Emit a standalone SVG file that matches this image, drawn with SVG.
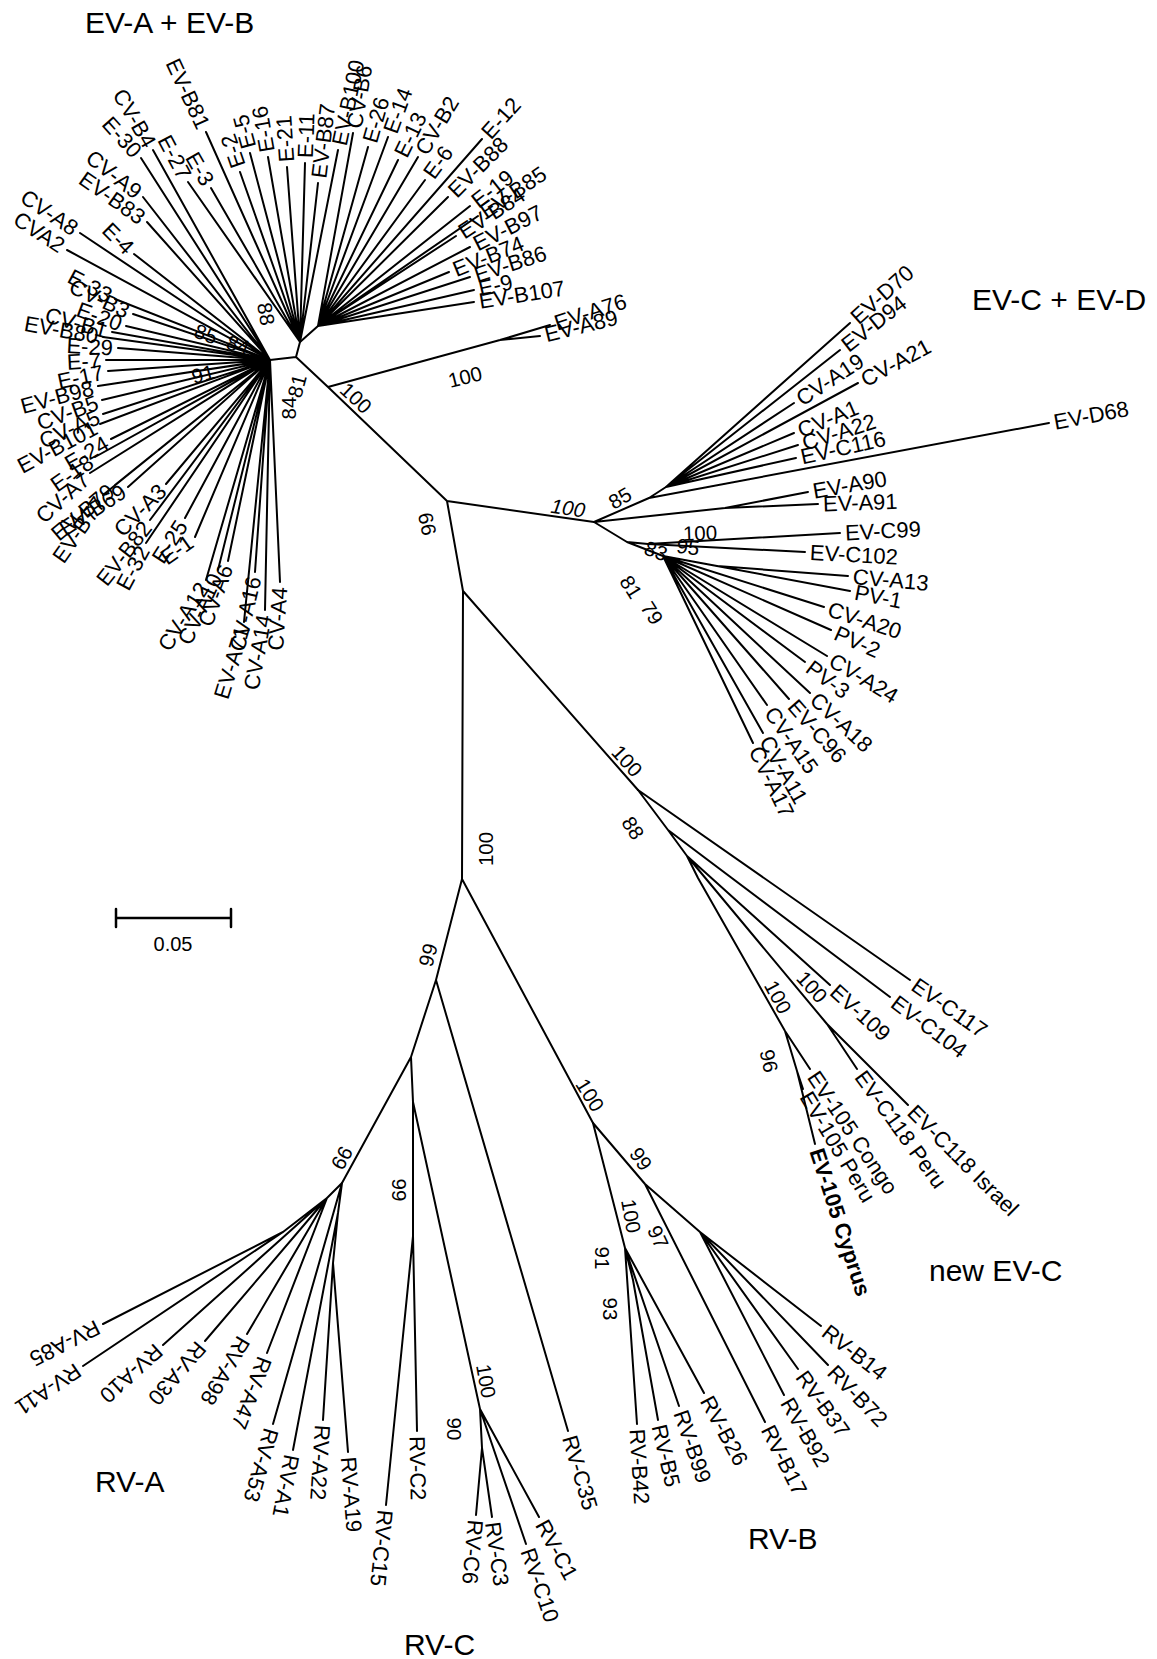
<svg xmlns="http://www.w3.org/2000/svg" width="1157" height="1659" viewBox="0 0 1157 1659">
<style>
.e{fill:none;stroke:#000;stroke-width:2;stroke-linecap:round;stroke-linejoin:round}
text{font-family:"Liberation Sans",Arial,Helvetica,sans-serif;fill:#000}
.s{font-size:22px;text-anchor:start}
.f{font-size:22px;text-anchor:end}
.b{font-size:20.5px;text-anchor:middle}
.ti{font-size:30px}
.bold{font-weight:bold}
</style>
<rect width="1157" height="1659" fill="#fff"/>
<g id="connectors" class="e">
<path d="M296 357L328 387L447 501L594 522M447 501L463 591L462 879M463 591L638 790M328 387L500 340L550 325M500 340L540 336M296 357L270 360M296 357L300 342L318 326"/>
<path d="M270 360L115 299M270 360L133 314M270 360L126 326M270 360L112 332M270 360L103 337M270 360L118 348M270 360L106 360M270 360L108 371M270 360L98 386M270 360L102 400M270 360L103 414M270 360L100 424M270 360L111 439M270 360L95 457M270 360L90 473M270 360L115 485M270 360L128 487M270 360L103 495M270 360L166 484M270 360L150 520M270 360L146 543M270 360L185 518M270 360L195 537M270 360L206 580M270 360L218 570M270 360L228 561M270 360L244 622M270 360L255 572M270 360L265 610M270 360L280 582"/>
<path d="M270 360L153 150M270 360L141 158M270 360L143 197M270 360L147 222M270 360L134 254M270 360L80 233M270 360L67 250"/>
<path d="M300 342L188 182M300 342L211 188M300 342L206 132M300 342L240 172M300 342L250 153M300 342L268 157M300 342L287 167M300 342L305 163M300 342L318 183M300 342L338 150"/>
<path d="M318 326L353 133M318 326L368 147M318 326L388 137M318 326L398 160M318 326L418 157M318 326L425 180M318 326L482 139M318 326L448 197M318 326L470 206M318 326L478 216M318 326L456 236M318 326L470 247M318 326L449 272M318 326L470 277M318 326L474 290M318 326L474 302"/>
<path d="M594 522L649 498L666 487M666 487L850 323M666 487L840 350M666 487L794 403M666 487L858 383M666 487L794 433M666 487L798 445M666 487L796 458M649 498L1049 423M594 522L725 508L808 492M725 508L818 504M594 522L627 542L648 544L840 533M648 544L805 552M627 542L663 556L717 566L848 576M717 566L850 591M663 556L824 607M663 556L831 630M663 556L827 656M663 556L805 662M663 556L810 693M663 556L789 699M663 556L767 705M663 556L763 733M663 556L753 743"/>
<path d="M638 790L910 980M638 790L668 830L890 997M668 830L687 856L830 985M687 856L827 1024L857 1069M827 1024L908 1105M687 856L698 878L785 1031L810 1069M785 1031L797 1071L803 1089M797 1071L815 1144"/>
<path d="M462 879L436 980L411 1057L342 1183M436 980L568 1431M462 879L593 1123M411 1057L413 1102L413 1236L386 1505M413 1236L417 1431M413 1102L480 1409L539 1517M480 1409L526 1544M480 1409L482 1448L476 1515M482 1448L492 1517"/>
<path d="M342 1183L327 1198L283 1232L103 1324M283 1232L83 1366M327 1198L163 1345M327 1198L205 1341M327 1198L247 1334M327 1198L267 1353M342 1183L273 1424M342 1183L338 1213L293 1450M338 1213L333 1263L323 1420M333 1263L348 1452"/>
<path d="M593 1123L645 1184L700 1232L821 1326M700 1232L828 1365M700 1232L798 1369M700 1232L784 1395M645 1184L765 1422M593 1123L625 1248L637 1424M625 1248L633 1280L658 1420M625 1248L679 1406M625 1248L704 1393"/>
</g>
<g id="scale-bar">
<path class="e" style="stroke-width:2.5" d="M116 918H231M116 909V927M231 909V927"/>
<text x="173" y="951" style="font-size:20px;text-anchor:middle">0.05</text>
</g>
<g id="titles">
<text id="t-EVAB" class="ti" x="85" y="33">EV-A + EV-B</text>
<text id="t-EVCD" class="ti" x="972" y="310">EV-C + EV-D</text>
<text id="t-newEVC" class="ti" x="929" y="1281">new EV-C</text>
<text id="t-RVA" class="ti" x="95" y="1492">RV-A</text>
<text id="t-RVB" class="ti" x="748" y="1549">RV-B</text>
<text id="t-RVC" class="ti" x="404" y="1655">RV-C</text>
</g>
<g id="leaves-evab-left">
<g id="n-E-33"><text class="f" transform="translate(115 299) rotate(28)" x="-5" dy=".35em">E-33</text></g>
<g id="n-CV-B3"><text class="f" transform="translate(133 314) rotate(25)" x="-5" dy=".35em">CV-B3</text></g>
<g id="n-E-20"><text class="f" transform="translate(126 326) rotate(20)" x="-5" dy=".35em">E-20</text></g>
<g id="n-CV-B1"><text class="f" transform="translate(112 332) rotate(15)" x="-5" dy=".35em">CV-B1</text></g>
<g id="n-EV-B80"><text class="f" transform="translate(103 337) rotate(10)" x="-5" dy=".35em">EV-B80</text></g>
<g id="n-E-29"><text class="f" transform="translate(118 348) rotate(3)" x="-5" dy=".35em">E-29</text></g>
<g id="n-E-7"><text class="f" transform="translate(106 360) rotate(-3)" x="-5" dy=".35em">E-7</text></g>
<g id="n-E-17"><text class="f" transform="translate(108 371) rotate(-12)" x="-5" dy=".35em">E-17</text></g>
<g id="n-EV-B98"><text class="f" transform="translate(98 386) rotate(-15)" x="-5" dy=".35em">EV-B98</text></g>
<g id="n-CV-B5"><text class="f" transform="translate(102 400) rotate(-20)" x="-5" dy=".35em">CV-B5</text></g>
<g id="n-CV-A5"><text class="f" transform="translate(103 414) rotate(-24)" x="-5" dy=".35em">CV-A5</text></g>
<g id="n-EV-B101"><text class="f" transform="translate(100 424) rotate(-28)" x="-5" dy=".35em">EV-B101</text></g>
<g id="n-E-24"><text class="f" transform="translate(111 439) rotate(-30)" x="-5" dy=".35em">E-24</text></g>
<g id="n-E-18"><text class="f" transform="translate(95 457) rotate(-35)" x="-5" dy=".35em">E-18</text></g>
<g id="n-CV-A7"><text class="f" transform="translate(90 473) rotate(-42)" x="-5" dy=".35em">CV-A7</text></g>
<g id="n-EV-B79"><text class="f" transform="translate(115 485) rotate(-40)" x="-5" dy=".35em">EV-B79</text></g>
<g id="n-EV-B69"><text class="f" transform="translate(128 487) rotate(-33)" x="-5" dy=".35em">EV-B69</text></g>
<g id="n-EV-B77"><text class="f" transform="translate(103 495) rotate(-55)" x="-5" dy=".35em">EV-B77</text></g>
<g id="n-CV-A3"><text class="f" transform="translate(166 484) rotate(-45)" x="-5" dy=".35em">CV-A3</text></g>
<g id="n-EV-B82"><text class="f" transform="translate(150 520) rotate(-52)" x="-5" dy=".35em">EV-B82</text></g>
<g id="n-E-32"><text class="f" transform="translate(146 543) rotate(-62)" x="-5" dy=".35em">E-32</text></g>
<g id="n-E-25"><text class="f" transform="translate(185 518) rotate(-57)" x="-5" dy=".35em">E-25</text></g>
<g id="n-E-1"><text class="f" transform="translate(195 537) rotate(-35)" x="-5" dy=".35em">E-1</text></g>
<g id="n-CV-A12"><text class="f" transform="translate(206 580) rotate(-58)" x="-5" dy=".35em">CV-A12</text></g>
<g id="n-CV-A10"><text class="f" transform="translate(218 570) rotate(-65)" x="-5" dy=".35em">CV-A10</text></g>
<g id="n-CV-A6"><text class="f" transform="translate(228 561) rotate(-70)" x="-5" dy=".35em">CV-A6</text></g>
<g id="n-EV-A71"><text class="f" transform="translate(244 622) rotate(-73)" x="-5" dy=".35em">EV-A71</text></g>
<g id="n-CV-A16"><text class="f" transform="translate(255 572) rotate(-77)" x="-5" dy=".35em">CV-A16</text></g>
<g id="n-CV-A14"><text class="f" transform="translate(265 610) rotate(-80)" x="-5" dy=".35em">CV-A14</text></g>
<g id="n-CV-A4"><text class="f" transform="translate(280 582) rotate(-86)" x="-5" dy=".35em">CV-A4</text></g>
</g>
<g id="leaves-evab-upper">
<g id="n-CV-B4"><text class="f" transform="translate(153 150) rotate(60)" x="-5" dy=".35em">CV-B4</text></g>
<g id="n-E-30"><text class="f" transform="translate(141 158) rotate(48)" x="-5" dy=".35em">E-30</text></g>
<g id="n-CV-A9"><text class="f" transform="translate(143 197) rotate(38)" x="-5" dy=".35em">CV-A9</text></g>
<g id="n-EV-B83"><text class="f" transform="translate(147 222) rotate(35)" x="-5" dy=".35em">EV-B83</text></g>
<g id="n-E-4"><text class="f" transform="translate(134 254) rotate(45)" x="-5" dy=".35em">E-4</text></g>
<g id="n-CV-A8"><text class="f" transform="translate(80 233) rotate(34)" x="-5" dy=".35em">CV-A8</text></g>
<g id="n-CVA2"><text class="f" transform="translate(67 250) rotate(33)" x="-5" dy=".35em">CVA2</text></g>
<g id="n-E-27"><text class="f" transform="translate(188 182) rotate(62)" x="-5" dy=".35em">E-27</text></g>
<g id="n-E-3"><text class="f" transform="translate(211 188) rotate(60)" x="-5" dy=".35em">E-3</text></g>
<g id="n-EV-B81"><text class="f" transform="translate(206 132) rotate(65)" x="-5" dy=".35em">EV-B81</text></g>
<g id="n-E-2"><text class="s" transform="translate(240 172) rotate(-109)" x="5" dy=".35em">E-2</text></g>
<g id="n-E-5"><text class="s" transform="translate(250 153) rotate(-105)" x="5" dy=".35em">E-5</text></g>
<g id="n-E-16"><text class="s" transform="translate(268 157) rotate(-100)" x="5" dy=".35em">E-16</text></g>
<g id="n-E-21"><text class="s" transform="translate(287 167) rotate(-94)" x="5" dy=".35em">E-21</text></g>
<g id="n-E-11"><text class="s" transform="translate(305 163) rotate(-88)" x="5" dy=".35em">E-11</text></g>
<g id="n-EV-B87"><text class="s" transform="translate(318 183) rotate(-83)" x="5" dy=".35em">EV-B87</text></g>
<g id="n-EV-B100"><text class="s" transform="translate(338 150) rotate(-78)" x="5" dy=".35em">EV-B100</text></g>
<g id="n-CV-B6"><text class="s" transform="translate(353 133) rotate(-80)" x="5" dy=".35em">CV-B6</text></g>
<g id="n-E-26"><text class="s" transform="translate(368 147) rotate(-74)" x="5" dy=".35em">E-26</text></g>
<g id="n-E-14"><text class="s" transform="translate(388 137) rotate(-70)" x="5" dy=".35em">E-14</text></g>
<g id="n-E-13"><text class="s" transform="translate(398 160) rotate(-64)" x="5" dy=".35em">E-13</text></g>
<g id="n-CV-B2"><text class="s" transform="translate(418 157) rotate(-59)" x="5" dy=".35em">CV-B2</text></g>
<g id="n-E-6"><text class="s" transform="translate(425 180) rotate(-54)" x="5" dy=".35em">E-6</text></g>
<g id="n-E-12"><text class="s" transform="translate(482 139) rotate(-48)" x="5" dy=".35em">E-12</text></g>
<g id="n-EV-B88"><text class="s" transform="translate(448 197) rotate(-45)" x="5" dy=".35em">EV-B88</text></g>
<g id="n-E-19"><text class="s" transform="translate(470 206) rotate(-38)" x="5" dy=".35em">E-19</text></g>
<g id="n-EV-B85"><text class="s" transform="translate(478 216) rotate(-34)" x="5" dy=".35em">EV-B85</text></g>
<g id="n-EV-B84"><text class="s" transform="translate(456 236) rotate(-33)" x="5" dy=".35em">EV-B84</text></g>
<g id="n-EV-B97"><text class="s" transform="translate(470 247) rotate(-27)" x="5" dy=".35em">EV-B97</text></g>
<g id="n-EV-B74"><text class="s" transform="translate(449 272) rotate(-22)" x="5" dy=".35em">EV-B74</text></g>
<g id="n-EV-B86"><text class="s" transform="translate(470 277) rotate(-18)" x="5" dy=".35em">EV-B86</text></g>
<g id="n-E-9"><text class="s" transform="translate(474 290) rotate(-13)" x="5" dy=".35em">E-9</text></g>
<g id="n-EV-B107"><text class="s" transform="translate(474 302) rotate(-9)" x="5" dy=".35em">EV-B107</text></g>
<g id="n-EV-A76"><text class="s" transform="translate(550 325) rotate(-18)" x="5" dy=".35em">EV-A76</text></g>
<g id="n-EV-A89"><text class="s" transform="translate(540 336) rotate(-14)" x="5" dy=".35em">EV-A89</text></g>
</g>
<g id="leaves-evcd">
<g id="n-EV-D70"><text class="s" transform="translate(850 323) rotate(-41.7)" x="5" dy=".35em">EV-D70</text></g>
<g id="n-EV-D94"><text class="s" transform="translate(840 350) rotate(-38.2)" x="5" dy=".35em">EV-D94</text></g>
<g id="n-CV-A19"><text class="s" transform="translate(794 403) rotate(-33.3)" x="5" dy=".35em">CV-A19</text></g>
<g id="n-CV-A21"><text class="s" transform="translate(858 383) rotate(-28.4)" x="5" dy=".35em">CV-A21</text></g>
<g id="n-CV-A1"><text class="s" transform="translate(794 433) rotate(-22.9)" x="5" dy=".35em">CV-A1</text></g>
<g id="n-CV-A22"><text class="s" transform="translate(798 445) rotate(-17.6)" x="5" dy=".35em">CV-A22</text></g>
<g id="n-EV-C116"><text class="s" transform="translate(796 458) rotate(-12.6)" x="5" dy=".35em">EV-C116</text></g>
<g id="n-EV-D68"><text class="s" transform="translate(1049 423) rotate(-10.6)" x="5" dy=".35em">EV-D68</text></g>
<g id="n-EV-A90"><text class="s" transform="translate(808 492) rotate(-10)" x="5" dy=".35em">EV-A90</text></g>
<g id="n-EV-A91"><text class="s" transform="translate(818 504) rotate(-2)" x="5" dy=".35em">EV-A91</text></g>
<g id="n-EV-C99"><text class="s" transform="translate(840 533) rotate(-3)" x="5" dy=".35em">EV-C99</text></g>
<g id="n-EV-C102"><text class="s" transform="translate(805 552) rotate(3)" x="5" dy=".35em">EV-C102</text></g>
<g id="n-CV-A13"><text class="s" transform="translate(848 576) rotate(5)" x="5" dy=".35em">CV-A13</text></g>
<g id="n-PV-1"><text class="s" transform="translate(850 591) rotate(11)" x="5" dy=".35em">PV-1</text></g>
<g id="n-CV-A20"><text class="s" transform="translate(824 607) rotate(18)" x="5" dy=".35em">CV-A20</text></g>
<g id="n-PV-2"><text class="s" transform="translate(831 630) rotate(24)" x="5" dy=".35em">PV-2</text></g>
<g id="n-CV-A24"><text class="s" transform="translate(827 656) rotate(31)" x="5" dy=".35em">CV-A24</text></g>
<g id="n-PV-3"><text class="s" transform="translate(805 662) rotate(37)" x="5" dy=".35em">PV-3</text></g>
<g id="n-CV-A18"><text class="s" transform="translate(810 693) rotate(43)" x="5" dy=".35em">CV-A18</text></g>
<g id="n-EV-C96"><text class="s" transform="translate(789 699) rotate(48.6)" x="5" dy=".35em">EV-C96</text></g>
<g id="n-CV-A15"><text class="s" transform="translate(767 705) rotate(55)" x="5" dy=".35em">CV-A15</text></g>
<g id="n-CV-A11"><text class="s" transform="translate(763 733) rotate(60.5)" x="5" dy=".35em">CV-A11</text></g>
<g id="n-CV-A17"><text class="s" transform="translate(753 743) rotate(64.3)" x="5" dy=".35em">CV-A17</text></g>
</g>
<g id="leaves-newevc">
<g id="n-EV-C117"><text class="s" transform="translate(910 980) rotate(35)" x="5" dy=".35em">EV-C117</text></g>
<g id="n-EV-C104"><text class="s" transform="translate(890 997) rotate(37)" x="5" dy=".35em">EV-C104</text></g>
<g id="n-EV-109"><text class="s" transform="translate(830 985) rotate(42)" x="5" dy=".35em">EV-109</text></g>
<g id="n-EV-C118-Israel"><text class="s" transform="translate(908 1105) rotate(45)" x="5" dy=".35em">EV-C118 Israel</text></g>
<g id="n-EV-C118-Peru"><text class="s" transform="translate(857 1069) rotate(54)" x="5" dy=".35em">EV-C118 Peru</text></g>
<g id="n-EV-105-Congo"><text class="s" transform="translate(810 1069) rotate(56)" x="5" dy=".35em">EV-105 Congo</text></g>
<g id="n-EV-105-Peru"><text class="s" transform="translate(803 1089) rotate(59)" x="5" dy=".35em">EV-105 Peru</text></g>
<g id="n-EV-105-Cyprus"><text class="s bold" transform="translate(815 1144) rotate(72)" x="5" dy=".35em">EV-105 Cyprus</text></g>
</g>
<g id="leaves-rv">
<g id="n-RV-A85"><text class="s" transform="translate(103 1324) rotate(153)" x="5" dy=".35em">RV-A85</text></g>
<g id="n-RV-A11"><text class="s" transform="translate(83 1366) rotate(146)" x="5" dy=".35em">RV-A11</text></g>
<g id="n-RV-A10"><text class="s" transform="translate(163 1345) rotate(138)" x="5" dy=".35em">RV-A10</text></g>
<g id="n-RV-A30"><text class="s" transform="translate(205 1341) rotate(130.5)" x="5" dy=".35em">RV-A30</text></g>
<g id="n-RV-A98"><text class="s" transform="translate(247 1334) rotate(120.5)" x="5" dy=".35em">RV-A98</text></g>
<g id="n-RV-A47"><text class="s" transform="translate(267 1353) rotate(111)" x="5" dy=".35em">RV-A47</text></g>
<g id="n-RV-A53"><text class="s" transform="translate(273 1424) rotate(106)" x="5" dy=".35em">RV-A53</text></g>
<g id="n-RV-A1"><text class="s" transform="translate(293 1450) rotate(101)" x="5" dy=".35em">RV-A1</text></g>
<g id="n-RV-A22"><text class="s" transform="translate(323 1420) rotate(93.6)" x="5" dy=".35em">RV-A22</text></g>
<g id="n-RV-A19"><text class="s" transform="translate(348 1452) rotate(85.5)" x="5" dy=".35em">RV-A19</text></g>
<g id="n-RV-C15"><text class="s" transform="translate(386 1505) rotate(95.7)" x="5" dy=".35em">RV-C15</text></g>
<g id="n-RV-C2"><text class="s" transform="translate(417 1431) rotate(88.8)" x="5" dy=".35em">RV-C2</text></g>
<g id="n-RV-C6"><text class="s" transform="translate(476 1515) rotate(95)" x="5" dy=".35em">RV-C6</text></g>
<g id="n-RV-C3"><text class="s" transform="translate(492 1517) rotate(82)" x="5" dy=".35em">RV-C3</text></g>
<g id="n-RV-C10"><text class="s" transform="translate(526 1544) rotate(71)" x="5" dy=".35em">RV-C10</text></g>
<g id="n-RV-C1"><text class="s" transform="translate(539 1517) rotate(61.4)" x="5" dy=".35em">RV-C1</text></g>
<g id="n-RV-C35"><text class="s" transform="translate(568 1431) rotate(73.7)" x="5" dy=".35em">RV-C35</text></g>
<g id="n-RV-B42"><text class="s" transform="translate(637 1424) rotate(86.5)" x="5" dy=".35em">RV-B42</text></g>
<g id="n-RV-B5"><text class="s" transform="translate(658 1420) rotate(77)" x="5" dy=".35em">RV-B5</text></g>
<g id="n-RV-B99"><text class="s" transform="translate(679 1406) rotate(71.3)" x="5" dy=".35em">RV-B99</text></g>
<g id="n-RV-B26"><text class="s" transform="translate(704 1393) rotate(61.6)" x="5" dy=".35em">RV-B26</text></g>
<g id="n-RV-B17"><text class="s" transform="translate(765 1422) rotate(63.2)" x="5" dy=".35em">RV-B17</text></g>
<g id="n-RV-B92"><text class="s" transform="translate(784 1395) rotate(60)" x="5" dy=".35em">RV-B92</text></g>
<g id="n-RV-B37"><text class="s" transform="translate(798 1369) rotate(54.4)" x="5" dy=".35em">RV-B37</text></g>
<g id="n-RV-B72"><text class="s" transform="translate(828 1365) rotate(46)" x="5" dy=".35em">RV-B72</text></g>
<g id="n-RV-B14"><text class="s" transform="translate(821 1326) rotate(38)" x="5" dy=".35em">RV-B14</text></g>
</g>
<g id="support-values">
<text class="b" transform="translate(465 377) rotate(-14)" dy=".35em">100</text>
<text class="b" transform="translate(356 398) rotate(43)" dy=".35em">100</text>
<text class="b" transform="translate(206 334) rotate(20)" dy=".35em">85</text>
<text class="b" transform="translate(238 345) rotate(18)" dy=".35em">84</text>
<text class="b" transform="translate(266 314) rotate(80)" dy=".35em">88</text>
<text class="b" transform="translate(203 374) rotate(-15)" dy=".35em">91</text>
<text class="b" transform="translate(289 408) rotate(-90)" dy=".35em">84</text>
<text class="b" transform="translate(297 386) rotate(-75)" dy=".35em">81</text>
<text class="b" transform="translate(427 524) rotate(-102)" dy=".35em">99</text>
<text class="b" style="font-style:italic" transform="translate(568 508) rotate(8)" dy=".35em">100</text>
<text class="b" transform="translate(620 498) rotate(-30)" dy=".35em">85</text>
<text class="b" transform="translate(700 533) rotate(-2)" dy=".35em">100</text>
<text class="b" transform="translate(688 547) rotate(8)" dy=".35em">95</text>
<text class="b" transform="translate(656 551) rotate(20)" dy=".35em">83</text>
<text class="b" transform="translate(631 587) rotate(58)" dy=".35em">81</text>
<text class="b" transform="translate(652 613) rotate(58)" dy=".35em">79</text>
<text class="b" transform="translate(486 849) rotate(-90)" dy=".35em">100</text>
<text class="b" transform="translate(627 761) rotate(48)" dy=".35em">100</text>
<text class="b" transform="translate(633 828) rotate(58)" dy=".35em">88</text>
<text class="b" transform="translate(812 987) rotate(48)" dy=".35em">100</text>
<text class="b" transform="translate(778 997) rotate(62)" dy=".35em">100</text>
<text class="b" transform="translate(769 1061) rotate(78)" dy=".35em">96</text>
<text class="b" transform="translate(428 955) rotate(-75)" dy=".35em">99</text>
<text class="b" transform="translate(590 1095) rotate(58)" dy=".35em">100</text>
<text class="b" transform="translate(641 1159) rotate(55)" dy=".35em">99</text>
<text class="b" transform="translate(658 1237) rotate(65)" dy=".35em">97</text>
<text class="b" transform="translate(631 1216) rotate(80)" dy=".35em">100</text>
<text class="b" transform="translate(602 1258) rotate(90)" dy=".35em">91</text>
<text class="b" transform="translate(610 1309) rotate(90)" dy=".35em">93</text>
<text class="b" transform="translate(342 1158) rotate(119)" dy=".35em">99</text>
<text class="b" transform="translate(399 1190) rotate(90)" dy=".35em">99</text>
<text class="b" transform="translate(486 1381) rotate(80)" dy=".35em">100</text>
<text class="b" transform="translate(454 1429) rotate(90)" dy=".35em">90</text>
</g>
</svg>
